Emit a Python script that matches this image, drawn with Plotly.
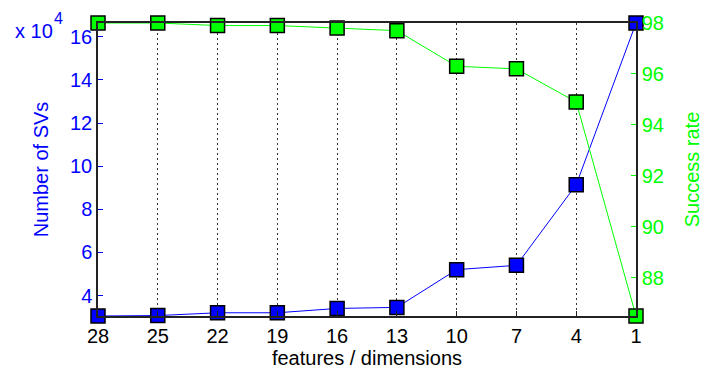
import plotly.graph_objects as go

# Feature count (x axis runs from 28 down to 1)
features = [28, 25, 22, 19, 16, 13, 10, 7, 4, 1]
# Number of support vectors
num_svs = [30500, 30700, 32000, 32000, 34000, 34500, 52000, 54000, 91400, 166400]
# Success rate in percent
success_rate = [98.0, 98.0, 97.9, 97.9, 97.8, 97.7, 96.3, 96.2, 94.9, 86.5]

left_ticks = [40000, 60000, 80000, 100000, 120000, 140000, 160000]
left_ticktext = ["4", "6", "8", "10", "12", "14", "16"]
right_ticks = [88, 90, 92, 94, 96, 98]

FONT = "Liberation Sans, Arial, sans-serif"
BLUE = "#0000ff"
GREEN = "#00ff00"
FS = 20

fig = go.Figure()
fig.add_trace(go.Scatter(
    x=features, y=num_svs, mode="lines+markers", yaxis="y",
    line=dict(color=BLUE, width=1),
    marker=dict(symbol="square", size=14, color=BLUE, line=dict(color="black", width=1.5)),
    showlegend=False, cliponaxis=False,
))
fig.add_trace(go.Scatter(
    x=features, y=success_rate, mode="lines+markers", yaxis="y2",
    line=dict(color=GREEN, width=1),
    marker=dict(symbol="square", size=14, color=GREEN, line=dict(color="black", width=1.5)),
    showlegend=False, cliponaxis=False,
))

fig.update_layout(
    width=712, height=380,
    margin=dict(l=98, r=69, t=17, b=64),
    paper_bgcolor="white", plot_bgcolor="white",
    font=dict(family=FONT, size=FS, color="black"),
    xaxis=dict(
        range=[28, 1], tickvals=features, ticktext=[str(f) for f in features],
        showgrid=True, gridcolor="#333", griddash="1.5px,3.5px", gridwidth=1.2,
        showline=True, linecolor="#222", linewidth=1.5, mirror=True,
        ticks="inside", ticklen=5, tickcolor="#222",
        zeroline=False, ticklabelstandoff=1,
        title=dict(text="features / dimensions", font=dict(size=FS, color="black"), standoff=0),
        tickfont=dict(size=FS, color="black"),
    ),
    yaxis=dict(
        range=[30500, 166400], tickvals=left_ticks, ticktext=left_ticktext,
        showgrid=False, zeroline=False,
        showline=True, linecolor="#222", linewidth=1.5,
        ticks="inside", ticklen=5, tickcolor=BLUE,
        tickfont=dict(size=FS, color=BLUE),
        title=dict(text="Number of SVs", font=dict(size=FS, color=BLUE), standoff=16),
    ),
    yaxis2=dict(
        range=[86.5, 98.0], tickvals=right_ticks, overlaying="y", side="right",
        showgrid=False, zeroline=False,
        showline=True, linecolor="#222", linewidth=1.5,
        ticks="inside", ticklen=5, tickcolor=GREEN,
        tickfont=dict(size=FS, color=GREEN),
        title=dict(text="Success rate", font=dict(size=FS, color=GREEN), standoff=22),
    ),
    annotations=[
        dict(text="x 10", xref="paper", yref="paper", x=0, y=1,
             xanchor="right", yanchor="middle", xshift=-43, yshift=-8, showarrow=False,
             font=dict(family=FONT, size=FS, color=BLUE)),
        dict(text="4", xref="paper", yref="paper", x=0, y=1,
             xanchor="right", yanchor="middle", xshift=-33, yshift=5, showarrow=False,
             font=dict(family=FONT, size=16, color=BLUE)),
    ],
)

fig.write_html("out.html")
